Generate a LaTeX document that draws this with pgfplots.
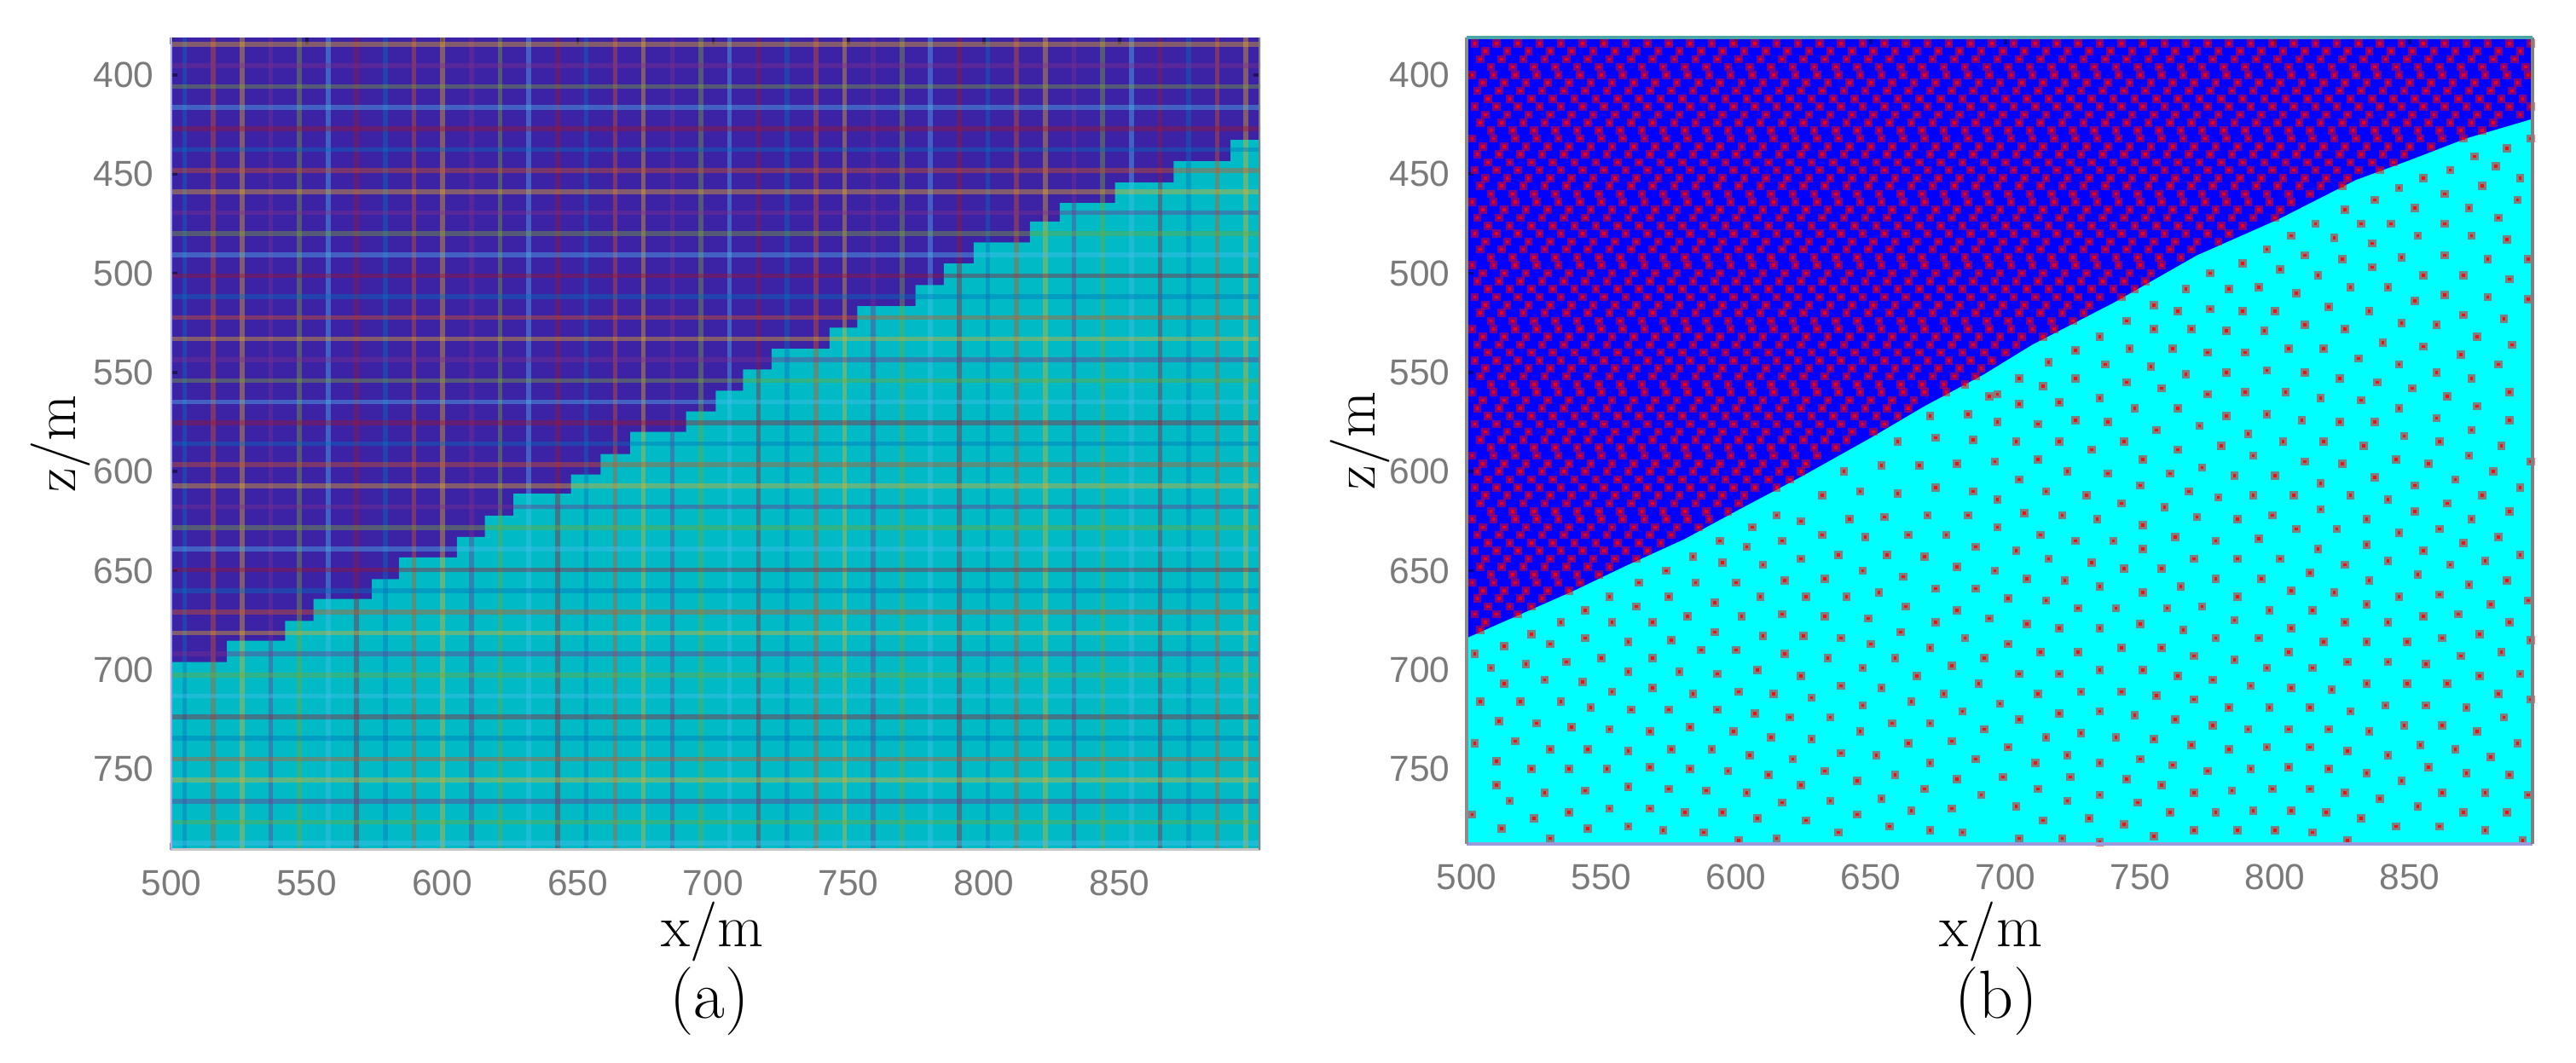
\documentclass[border=0pt]{standalone}
\usepackage{fontspec}
\usepackage{pgfplots}
\pgfplotsset{compat=1.18}
\newfontfamily\ticksans{Liberation Sans}

\definecolor{mlblue}{RGB}{0,114,189}
\definecolor{mlorange}{RGB}{217,83,25}
\definecolor{mlyellow}{RGB}{237,177,32}
\definecolor{mlpurple}{RGB}{126,47,142}
\definecolor{mlgreen}{RGB}{119,172,48}
\definecolor{mllight}{RGB}{77,190,238}
\definecolor{mlred}{RGB}{162,20,47}
\definecolor{darkbg}{RGB}{60,35,165}
\definecolor{tealbg}{RGB}{0,186,198}
\definecolor{lowcyan}{RGB}{0,255,255}
\definecolor{upblue}{RGB}{0,0,255}
\definecolor{dotred}{RGB}{255,0,0}

\def\pts{}
\newcommand\zrow[2]{\edef\rowlist{#2}\foreach \x in \rowlist{\xdef\pts{\pts(\x,#1)}}}
% dots above the interface, row by row. Too dense to read one by one:
% rows and spacing estimated from the crops, not single dot readings
\def\pa{503,511,519,527,535,543,551,559,567,575,583,591,599,607,615,623,631,639,647,655,663,671,679,687,695,703,711,719,727,735,743,751,759,767,775,783,791,799,807,815,823,831,839,847,855,863,871,879,887,895}
\def\pb{507,515,523,531,539,547,555,563,571,579,587,595,603,611,619,627,635,643,651,659,667,675,683,691,699,707,715,723,731,739,747,755,763,771,779,787,795,803,811,819,827,835,843,851,859,867,875,883,891}
\def\pc{505,513,521,529,537,545,553,561,569,577,585,593,601,609,617,625,633,641,649,657,665,673,681,689,697,705,713,721,729,737,745,753,761,769,777,785,793,801,809,817,825,833,841,849,857,865,873,881,889}
\def\pd{509,517,525,533,541,549,557,565,573,581,589,597,605,613,621,629,637,645,653,661,669,677,685,693,701,709,717,725,733,741,749,757,765,773,781,789,797,805,813,821,829,837,845,853,861,869,877,885,893}
\def\pe{502,510,518,526,534,542,550,558,566,574,582,590,598,606,614,622,630,638,646,654,662,670,678,686,694,702,710,718,726,734,742,750,758,766,774,782,790,798,806,814,822,830,838,846,854,862,870,878,886,894}
\def\pf{506,514,522,530,538,546,554,562,570,578,586,594,602,610,618,626,634,642,650,658,666,674,682,690,698,706,714,722,730,738,746,754,762,770,778,786,794,802,810,818,826,834,842,850,858,866,874,882,890}
\def\pg{504,512,520,528,536,544,552,560,568,576,584,592,600,608,616,624,632,640,648,656,664,672,680,688,696,704,712,720,728,736,744,752,760,768,776,784,792,800,808,816,824,832,840,848,856,864,872,880,888,896}
\def\ph{508,516,524,532,540,548,556,564,572,580,588,596,604,612,620,628,636,644,652,660,668,676,684,692,700,708,716,724,732,740,748,756,764,772,780,788,796,804,812,820,828,836,844,852,860,868,876,884,892}
\zrow{381}{507,515,530,540,547,554,567,589,604,612,618,628,640,647,700,724,760}
\zrow{384}{\pa}\zrow{388}{\pb}\zrow{392}{\pc}\zrow{396}{\pd}\zrow{400}{\pe}\zrow{404}{\pf}\zrow{408}{\pg}\zrow{412}{\ph}\zrow{416}{\pa}
\zrow{420}{\pb}
\zrow{424}{505,513,521,529,537,545,553,561,569,577,585,593,601,609,617,625,633,641,649,657,665,673,681,689,697,705,713,721,729,737,745,753,761,769,777,785,793,801,809,817,825,833,841,849,857,865,873,881}
\zrow{428}{509,517,525,533,541,549,557,565,573,581,589,597,605,613,621,629,637,645,653,661,669,677,685,693,701,709,717,725,733,741,749,757,765,773,781,789,797,805,813,821,829,837,845,853,861,869,877}
\zrow{432}{502,510,518,526,534,542,550,558,566,574,582,590,598,606,614,622,630,638,646,654,662,670,678,686,694,702,710,718,726,734,742,750,758,766,774,782,790,798,806,814,822,830,838,846,854,862,870}
\zrow{436}{506,514,522,530,538,546,554,562,570,578,586,594,602,610,618,626,634,642,650,658,666,674,682,690,698,706,714,722,730,738,746,754,762,770,778,786,794,802,810,818,826,834,842,850,858}
\zrow{440}{504,512,520,528,536,544,552,560,568,576,584,592,600,608,616,624,632,640,648,656,664,672,680,688,696,704,712,720,728,736,744,752,760,768,776,784,792,800,808,816,824,832,840,848}
\zrow{444}{508,516,524,532,540,548,556,564,572,580,588,596,604,612,620,628,636,644,652,660,668,676,684,692,700,708,716,724,732,740,748,756,764,772,780,788,796,804,812,820,828,836,844}
\zrow{448}{503,511,519,527,535,543,551,559,567,575,583,591,599,607,615,623,631,639,647,655,663,671,679,687,695,703,711,719,727,735,743,751,759,767,775,783,791,799,807,815,823,831,839}
\zrow{452}{507,515,523,531,539,547,555,563,571,579,587,595,603,611,619,627,635,643,651,659,667,675,683,691,699,707,715,723,731,739,747,755,763,771,779,787,795,803,811,819,827}
\zrow{456}{505,513,521,529,537,545,553,561,569,577,585,593,601,609,617,625,633,641,649,657,665,673,681,689,697,705,713,721,729,737,745,753,761,769,777,785,793,801,809,817,825}
\zrow{460}{509,517,525,533,541,549,557,565,573,581,589,597,605,613,621,629,637,645,653,661,669,677,685,693,701,709,717,725,733,741,749,757,765,773,781,789,797,805,813}
\zrow{464}{502,510,518,526,534,542,550,558,566,574,582,590,598,606,614,622,630,638,646,654,662,670,678,686,694,702,710,718,726,734,742,750,758,766,774,782,790,798,806}
\zrow{468}{506,514,522,530,538,546,554,562,570,578,586,594,602,610,618,626,634,642,650,658,666,674,682,690,698,706,714,722,730,738,746,754,762,770,778,786,794,802}
\zrow{472}{504,512,520,528,536,544,552,560,568,576,584,592,600,608,616,624,632,640,648,656,664,672,680,688,696,704,712,720,728,736,744,752,760,768,776,784,792,800}
\zrow{476}{508,516,524,532,540,548,556,564,572,580,588,596,604,612,620,628,636,644,652,660,668,676,684,692,700,708,716,724,732,740,748,756,764,772,780,788}
\zrow{480}{503,511,519,527,535,543,551,559,567,575,583,591,599,607,615,623,631,639,647,655,663,671,679,687,695,703,711,719,727,735,743,751,759,767,775,783}
\zrow{484}{507,515,523,531,539,547,555,563,571,579,587,595,603,611,619,627,635,643,651,659,667,675,683,691,699,707,715,723,731,739,747,755,763,771,779}
\zrow{488}{505,513,521,529,537,545,553,561,569,577,585,593,601,609,617,625,633,641,649,657,665,673,681,689,697,705,713,721,729,737,745,753,761,769}
\zrow{492}{509,517,525,533,541,549,557,565,573,581,589,597,605,613,621,629,637,645,653,661,669,677,685,693,701,709,717,725,733,741,749,757,765}
\zrow{496}{502,510,518,526,534,542,550,558,566,574,582,590,598,606,614,622,630,638,646,654,662,670,678,686,694,702,710,718,726,734,742,750,758}
\zrow{500}{506,514,522,530,538,546,554,562,570,578,586,594,602,610,618,626,634,642,650,658,666,674,682,690,698,706,714,722,730,738,746,754}
\zrow{504}{504,512,520,528,536,544,552,560,568,576,584,592,600,608,616,624,632,640,648,656,664,672,680,688,696,704,712,720,728,736,744,752}
\zrow{508}{508,516,524,532,540,548,556,564,572,580,588,596,604,612,620,628,636,644,652,660,668,676,684,692,700,708,716,724,732,740,748}
\zrow{512}{503,511,519,527,535,543,551,559,567,575,583,591,599,607,615,623,631,639,647,655,663,671,679,687,695,703,711,719,727,735,743}
\zrow{516}{507,515,523,531,539,547,555,563,571,579,587,595,603,611,619,627,635,643,651,659,667,675,683,691,699,707,715,723,731}
\zrow{520}{505,513,521,529,537,545,553,561,569,577,585,593,601,609,617,625,633,641,649,657,665,673,681,689,697,705,713,721,729}
\zrow{524}{509,517,525,533,541,549,557,565,573,581,589,597,605,613,621,629,637,645,653,661,669,677,685,693,701,709,717,725}
\zrow{528}{502,510,518,526,534,542,550,558,566,574,582,590,598,606,614,622,630,638,646,654,662,670,678,686,694,702,710,718}
\zrow{532}{506,514,522,530,538,546,554,562,570,578,586,594,602,610,618,626,634,642,650,658,666,674,682,690,698,706,714}
\zrow{536}{504,512,520,528,536,544,552,560,568,576,584,592,600,608,616,624,632,640,648,656,664,672,680,688,696,704}
\zrow{540}{508,516,524,532,540,548,556,564,572,580,588,596,604,612,620,628,636,644,652,660,668,676,684,692,700}
\zrow{544}{503,511,519,527,535,543,551,559,567,575,583,591,599,607,615,623,631,639,647,655,663,671,679,687,695}
\zrow{548}{507,515,523,531,539,547,555,563,571,579,587,595,603,611,619,627,635,643,651,659,667,675,683,691}
\zrow{552}{505,513,521,529,537,545,553,561,569,577,585,593,601,609,617,625,633,641,649,657,665,673,681,689}
\zrow{556}{509,517,525,533,541,549,557,565,573,581,589,597,605,613,621,629,637,645,653,661,669,677,685}
\zrow{560}{502,510,518,526,534,542,550,558,566,574,582,590,598,606,614,622,630,638,646,654,662,670,678}
\zrow{564}{506,514,522,530,538,546,554,562,570,578,586,594,602,610,618,626,634,642,650,658,666}
\zrow{568}{504,512,520,528,536,544,552,560,568,576,584,592,600,608,616,624,632,640,648,656,664}
\zrow{572}{508,516,524,532,540,548,556,564,572,580,588,596,604,612,620,628,636,644,652,660}
\zrow{576}{503,511,519,527,535,543,551,559,567,575,583,591,599,607,615,623,631,639,647,655}
\zrow{580}{507,515,523,531,539,547,555,563,571,579,587,595,603,611,619,627,635,643,651}
\zrow{584}{505,513,521,529,537,545,553,561,569,577,585,593,601,609,617,625,633,641}
\zrow{588}{509,517,525,533,541,549,557,565,573,581,589,597,605,613,621,629,637}
\zrow{592}{502,510,518,526,534,542,550,558,566,574,582,590,598,606,614,622,630}
\zrow{596}{506,514,522,530,538,546,554,562,570,578,586,594,602,610,618,626}
\zrow{600}{504,512,520,528,536,544,552,560,568,576,584,592,600,608,616,624}
\zrow{604}{508,516,524,532,540,548,556,564,572,580,588,596,604,612,620}
\zrow{608}{503,511,519,527,535,543,551,559,567,575,583,591,599,607,615}
\zrow{612}{507,515,523,531,539,547,555,563,571,579,587,595,603}
\zrow{616}{505,513,521,529,537,545,553,561,569,577,585,593,601}
\zrow{620}{509,517,525,533,541,549,557,565,573,581,589,597}
\zrow{624}{502,510,518,526,534,542,550,558,566,574,582,590}
\zrow{628}{506,514,522,530,538,546,554,562,570,578,586}
\zrow{632}{504,512,520,528,536,544,552,560,568,576}
\zrow{636}{508,516,524,532,540,548,556,564,572}
\zrow{640}{503,511,519,527,535,543,551,559,567}
\zrow{644}{507,515,523,531,539,547,555,563}
\zrow{648}{505,513,521,529,537,545,553}
\zrow{652}{509,517,525,533,541,549}
\zrow{656}{502,510,518,526,534,542}
\zrow{660}{506,514,522,530,538}
\zrow{664}{504,512,520,528}
\zrow{668}{508,516,524}
\zrow{672}{503,511,519}
\zrow{676}{507}
\zrow{680}{505}

\def\lowpts{(615,622)(624,625)(642,624)(655,623)(671,622)(686,622)(606,628)(632,632)(594,635)(617,635)(648,633)(664,632)(678,632)(604,638)(689,638)(584,643)(638,642)(624,644)(656,642)(670,643)(595,646)(610,647)(682,648)(574,650)(647,650)(633,654)(662,653)(564,656)(585,656)(600,656)(618,655)(674,659)(689,659)(553,663)(575,663)(609,663)(626,663)(641,663)(653,661)(592,666)(563,668)(663,668)(682,670)(544,670)(582,673)(602,673)(617,672)(633,673)(649,674)(674,676)(535,676)(554,676)(569,676)(694,674)(592,681)(524,682)(544,684)(560,686)(576,685)(610,683)(625,683)(639,684)(661,681)(685,684)(650,687)(514,688)(531,687)(672,689)(587,690)(600,690)(618,692)(503,692)(550,694)(569,694)(634,694)(659,694)(692,694)(522,697)(537,696)(509,699)(560,701)(579,701)(593,702)(608,700)(647,699)(680,698)(624,703)(667,703)(514,707)(529,705)(543,706)(554,711)(569,709)(584,712)(601,711)(614,712)(639,708)(654,709)(677,712)(690,707)(505,716)(520,716)(535,716)(628,714)(665,716)(546,719)(561,720)(575,720)(593,720)(647,718)(684,721)(607,722)(620,724)(635,724)(512,726)(526,727)(539,729)(553,730)(568,731)(583,729)(599,731)(658,727)(672,727)(692,730)(646,731)(613,734)(628,735)(503,737)(518,736)(531,740)(545,740)(560,741)(576,740)(591,740)(664,737)(680,736)(605,743)(621,745)(639,742)(652,743)(511,746)(672,747)(689,745)(524,750)(538,750)(552,750)(568,749)(583,750)(597,751)(612,753)(633,751)(659,753)(645,756)(682,755)(511,758)(529,762)(544,761)(560,759)(575,760)(589,761)(604,762)(624,758)(670,760)(691,763)(654,765)(516,766)(635,766)(617,767)(502,773)(538,772)(553,770)(568,770)(581,772)(595,772)(665,771)(680,770)(525,775)(608,775)(645,773)(626,776)(513,780)(545,780)(560,779)(573,781)(588,782)(638,782)(657,779)(672,781)(684,782)(531,785)(601,786)(615,785)(502,788)(554,789)%
(726,539)(746,538)(762,538)(775,540)(789,540)(805,538)(818,538)(831,543)(840,535)(855,537)(869,541)(888,536)(716,545)(737,546)(754,547)(846,546)(883,546)(705,553)(726,553)(745,555)(767,551)(782,550)(797,549)(811,550)(824,553)(838,555)(860,550)(873,553)(714,557)(758,558)(735,563)(775,561)(789,560)(804,560)(817,563)(832,564)(851,558)(864,562)(887,560)(705,566)(720,565)(748,568)(764,568)(782,572)(797,571)(846,568)(875,567)(697,561)(697,575)(712,576)(726,574)(738,575)(772,577)(810,574)(824,575)(837,575)(860,573)(887,574)(756,579)(790,581)(848,582)(873,579)(704,585)(720,585)(732,589)(744,585)(764,589)(780,587)(803,585)(818,585)(833,587)(861,585)(884,587)(792,592)(872,592)(696,595)(712,594)(751,594)(811,595)(825,596)(845,594)(857,596)(895,595)(723,600)(738,601)(761,601)(773,598)(785,602)(800,602)(837,603)(881,600)(705,604)(817,606)(852,607)(867,604)(891,608)(750,607)(715,610)(730,612)(768,610)(779,613)(792,612)(807,612)(828,612)(842,614)(877,612)(697,614)(743,616)(759,618)(864,616)(817,619)(852,620)(887,620)(707,621)(721,622)(734,624)(771,623)(786,624)(799,622)(834,624)(873,624)(751,627)(697,628)(808,629)(823,629)(846,631)(861,629)(896,629)(713,632)(726,635)(740,635)(763,633)(778,635)(794,634)(883,633)(870,636)(834,637)(704,640)(751,639)(816,639)(855,640)(716,644)(732,646)(770,644)(786,644)(802,644)(891,642)(826,647)(842,645)(865,647)(878,645)(696,650)(744,649)(758,649)(813,651)(853,652)(708,654)(722,655)(778,654)(795,654)(835,655)(886,655)(765,658)(735,658)(872,657)(751,661)(806,660)(822,661)(786,663)(846,663)(861,662)(701,664)(715,665)(727,669)(741,669)(760,669)(773,668)(798,670)(834,667)(880,667)(814,670)(894,665)(855,673)(868,672)(708,677)(785,675)(826,676)(842,676)(887,676)(720,679)(735,679)(750,677)(766,680)(806,679)(778,684)(794,684)(818,686)(834,686)(849,686)(862,684)(876,682)(895,685)(701,687)(713,691)(727,691)(743,689)(758,689)(805,691)(770,693)(785,695)(869,693)(884,691)(705,702)(720,702)(735,700)(751,700)(764,703)(777,705)(797,699)(814,699)(827,696)(842,696)(856,697)(876,703)(891,702)(791,708)(806,709)(821,710)(834,707)(849,707)(864,707)(728,711)(743,711)(712,712)(756,713)(770,715)(883,712)(895,715)(698,717)(783,719)(798,719)(813,719)(828,721)(841,718)(856,718)(871,719)(720,722)(735,721)(748,723)(705,725)(763,725)(885,724)(777,728)(790,730)(805,730)(820,730)(848,728)(862,728)(715,734)(728,732)(741,734)(755,735)(835,731)(875,731)(701,739)(769,738)(783,740)(797,739)(813,739)(827,741)(854,738)(867,740)(890,737)(723,743)(735,747)(750,745)(711,747)(762,748)(842,743)(880,744)(791,750)(805,749)(820,750)(857,749)(775,751)(699,754)(724,754)(745,755)(834,752)(871,752)(887,753)(758,758)(847,756)(712,760)(770,762)(784,761)(799,760)(813,760)(826,762)(862,762)(878,762)(894,763)(735,763)(723,766)(839,765)(749,767)(704,769)(761,772)(778,772)(792,771)(806,771)(819,772)(853,769)(870,772)(886,772)(832,775)(714,776)(731,775)(744,778)(770,781)(786,781)(800,781)(814,782)(845,779)(861,779)(878,781)(705,785)(721,785)(755,784)(735,787)(827,786)(892,786)(853,789)(869,790)%
(886,437)(874,441)(895,432)(882,446)(865,448)(855,452)(891,452)(846,457)(877,456)(863,460)(837,463)(890,463)(852,467)(872,467)(826,468)(883,472)(815,475)(832,475)(843,475)(863,475)(806,481)(822,482)(853,481)(873,481)(886,483)(836,485)(797,488)(811,491)(847,492)(863,491)(825,493)(879,493)(894,493)(788,495)(836,497)(802,498)(776,500)(816,501)(855,501)(870,501)(887,503)(767,508)(783,508)(794,507)(808,510)(828,507)(842,507)(863,511)(879,512)(894,513)(755,516)(776,518)(764,519)(788,519)(800,519)(820,517)(835,519)(852,514)(870,521)(885,523)(745,524)(755,528)(769,528)(782,529)(796,529)(811,526)(826,528)(847,525)(860,526)(735,532)(875,532)%
(632,612)(646,610)(660,611)(674,608)(688,610)(640,600)(654,597)(668,597)(682,596)(660,585)(674,583)(688,584)(672,572)(686,571)(694,562)}

\pgfplotsset{
  panel/.style={
    scale only axis, anchor=south west,
    y dir=reverse,
    xtick={500,550,...,850}, ytick={400,450,...,750},
    tick align=inside, major tick length=2pt,
    tick style={black, opacity=.45, line width=.9pt},
    axis line style={draw=none},
    tick label style={font=\ticksans\fontsize{10.6}{12}\selectfont, text=black!52,
      /pgf/number format/assume math mode=true},
    xticklabel style={yshift=-2.4pt}, yticklabel style={xshift=-1.4pt},
  },
  halo/.style={color=dotred, only marks, mark=square*, mark size=1.2pt,
    mark options={solid, line width=0pt, fill opacity=.5, draw opacity=0}},
  core/.style={color=dotred, only marks, mark=square*, mark size=.45pt,
    mark options={solid, line width=0pt, fill opacity=.85, draw opacity=0}},
  gridv/.style={ycomb, line width=1.4pt, opacity=.4, no marks},
  gridh/.style={xcomb, line width=1.4pt, opacity=.4, no marks},
}

\begin{document}
\begin{tikzpicture}
\path[use as bounding box] (0pt,0pt) rectangle (755.25pt,311.5pt);

\begin{axis}[panel, at={(50pt,62.25pt)}, width=319.5pt, height=238.25pt,
  xmin=499.7, xmax=902, ymin=381.1, ymax=790.8,
  axis background/.style={fill=darkbg},
  xlabel={x/m}, ylabel={z/m},
  every axis x label/.style={at={(axis description cs:0.497,-0.1007)},anchor=center,font=\fontsize{17.5}{20}\selectfont},
  every axis y label/.style={at={(axis description cs:-0.101,0.5)},rotate=90,anchor=center,font=\fontsize{17.5}{20}\selectfont},
]
% staircase of the lower layer
\addplot[fill=tealbg, draw=none] coordinates {(499,696.1)(520.5,696.1)(520.5,685.3)(542,685.3)(542,675.3)(552.5,675.3)(552.5,664.2)(574,664.2)(574,654.2)(584,654.2)(584,643.3)(605.4,643.3)(605.4,633)(615.7,633)(615.7,622.2)(626.3,622.2)(626.3,611.2)(647.5,611.2)(647.5,601.5)(658.5,601.5)(658.5,591.2)(669.4,591.2)(669.4,580)(690,580)(690,569.7)(701,569.7)(701,559.2)(711,559.2)(711,548.5)(721.6,548.5)(721.6,538.1)(743,538.1)(743,527.4)(753.2,527.4)(753.2,516.6)(774.7,516.6)(774.7,505.9)(785.2,505.9)(785.2,495.1)(796.2,495.1)(796.2,484.4)(817,484.4)(817,473.9)(828,473.9)(828,464.6)(848.4,464.6)(848.4,454.2)(870,454.2)(870,443.5)(891,443.5)(891,432.7)(902,432.7)(902,791)(499,791)} \closedcycle;
% grid lines, one plot per line colour
\addplot[gridv, mlblue] coordinates {(504.9,800)(579,800)(653.2,800)(727.3,800)(801.4,800)(875.6,800)};
\addplot[gridv, mlorange] coordinates {(515.5,800)(589.6,800)(663.8,800)(737.9,800)(812,800)(886.1,800)};
\addplot[gridv, mlyellow] coordinates {(526.1,800)(600.2,800)(674.3,800)(748.5,800)(822.6,800)(896.7,800)};
\addplot[gridv, mlpurple] coordinates {(536.7,800)(610.8,800)(684.9,800)(759.1,800)(833.2,800)};
\addplot[gridv, mlgreen] coordinates {(547.3,800)(621.4,800)(695.5,800)(769.7,800)(843.8,800)};
\addplot[gridv, mllight] coordinates {(557.9,800)(632,800)(706.1,800)(780.2,800)(854.4,800)};
\addplot[gridv, mlred] coordinates {(568.4,800)(642.6,800)(716.7,800)(790.8,800)(865,800)};
\addplot[gridh, mlyellow] coordinates {(1000,384.6)(1000,458.8)(1000,533)(1000,607.2)(1000,681.4)(1000,755.6)};
\addplot[gridh, mlpurple] coordinates {(1000,395.2)(1000,469.4)(1000,543.6)(1000,617.8)(1000,692)(1000,766.2)};
\addplot[gridh, mlgreen] coordinates {(1000,405.8)(1000,480)(1000,554.2)(1000,628.4)(1000,702.6)(1000,776.8)};
\addplot[gridh, mllight] coordinates {(1000,416.4)(1000,490.6)(1000,564.8)(1000,639)(1000,713.2)(1000,787.4)};
\addplot[gridh, mlred] coordinates {(1000,427)(1000,501.2)(1000,575.4)(1000,649.6)(1000,723.8)};
\addplot[gridh, mlblue] coordinates {(1000,437.6)(1000,511.8)(1000,586)(1000,660.2)(1000,734.4)};
\addplot[gridh, mlorange] coordinates {(1000,448.2)(1000,522.4)(1000,596.6)(1000,670.8)(1000,745)};
\draw[line width=1pt, black!22] (rel axis cs:0,0)--(rel axis cs:1,0);
\draw[line width=1pt, black!20!blue!35] (rel axis cs:0,0)--(rel axis cs:0,1);
\draw[line width=1pt, black!50] (rel axis cs:1,0)--(rel axis cs:1,1);
\end{axis}

\begin{axis}[panel, at={(430pt,64pt)}, width=312.5pt, height=236.5pt,
  xmin=500, xmax=895.6, ymin=381.1, ymax=787.8, clip mode=individual,
  axis background/.style={fill=upblue},
  xlabel={x/m}, ylabel={z/m},
  every axis x label/.style={at={(axis description cs:0.492,-0.109)},anchor=center,font=\fontsize{17.5}{20}\selectfont},
  every axis y label/.style={at={(axis description cs:-0.1,0.5)},rotate=90,anchor=center,font=\fontsize{17.5}{20}\selectfont},
]
% interface between the two layers
\addplot[fill=lowcyan, draw=none] coordinates {(500,684)(520,672)(540,660)(560,647)(581,634)(600,620)(625,602)(650,583)(670,567)(692,551)(710,536)(740,515)(771,491)(801,473)(830,453)(850,443)(871,432)(896,422)(896,788)(500,788)} \closedcycle;
\edef\tmp{\noexpand\addplot[halo] coordinates {\pts\lowpts};}\tmp
\edef\tmp{\noexpand\addplot[core] coordinates {\pts\lowpts};}\tmp
\draw[line width=1pt, black!35!blue!40] (rel axis cs:0,0)--(rel axis cs:1,0);
\draw[line width=1pt, black!45] (rel axis cs:0,0)--(rel axis cs:0,1);
\draw[line width=1pt, black!50] (rel axis cs:1,0)--(rel axis cs:1,1);
\draw[line width=1.2pt, teal!70] (rel axis cs:0,1)--(rel axis cs:1,1);
\end{axis}

\node[font=\fontsize{20}{24}\selectfont] at (208pt,17.75pt) {(a)};
\node[font=\fontsize{20}{24}\selectfont] at (585.25pt,17.75pt) {(b)};
\end{tikzpicture}
\end{document}
